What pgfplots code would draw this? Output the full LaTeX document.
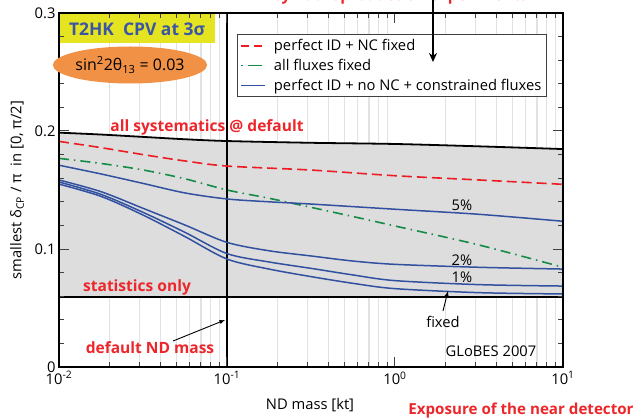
\documentclass[border=0pt]{standalone}
\usepackage{pgfplots}
\pgfplotsset{compat=1.18}
\usetikzlibrary{arrows.meta,shapes.geometric}
\usepackage{fontspec}
\setmainfont{Open Sans}
\definecolor{fillgray}{RGB}{221,221,221}
\definecolor{gridgray}{RGB}{226,226,226}
\definecolor{cred}{RGB}{237,28,36}
\definecolor{cgreen}{RGB}{20,140,70}
\definecolor{cblue}{RGB}{49,80,160}
\definecolor{annred}{RGB}{236,38,42}
\definecolor{titleblue}{RGB}{58,85,165}
\definecolor{cyellow}{RGB}{228,228,32}
\definecolor{corange}{RGB}{240,145,70}
\newcommand{\fs}{\fontsize{14.8}{16}\selectfont}
\newcommand{\fb}{\fontsize{15.6}{17}\selectfont\bfseries}
\begin{document}
\begin{tikzpicture}
\begin{axis}[
  at={(0,0)}, anchor=south west,
  scale only axis, width=504bp, height=354bp,
  xmode=log, xmin=0.01, xmax=10, ymin=0, ymax=0.3,
  axis on top,
  tick pos=both, tick align=inside,
  xtick={0.01,0.1,1,10},
  xticklabels={10\textsuperscript{-2},10\textsuperscript{-1},10\textsuperscript{0},10\textsuperscript{1}},
  minor xtick={0.02,0.03,0.04,0.05,0.06,0.07,0.08,0.09,0.2,0.3,0.4,0.5,0.6,0.7,0.8,0.9,2,3,4,5,6,7,8,9},
  ytick={0,0.1,0.2,0.3},
  yticklabels={0,0.1,0.2,0.3},
  minor ytick={0.02,0.04,0.06,0.08,0.12,0.14,0.16,0.18,0.22,0.24,0.26,0.28},
  major tick length=10bp, minor tick length=5bp,
  every tick/.style={black!75, line width=1bp},
  axis line style={line width=1.6bp},
  ticklabel style={font=\fs},
  xticklabel style={yshift=-1bp},
  legend style={at={(0.353,0.9407)}, anchor=north west, draw=black!75, line width=0.9bp,
    font=\fs, fill=white, inner xsep=3bp, inner ysep=3bp, row sep=3bp},
  legend cell align=left,
  legend image code/.code={\draw[#1] (0bp,0bp) -- (24bp,0bp); \path (30bp,0bp);},
]
% grid lines
\pgfplotsinvokeforeach{0.02,0.03,0.04,0.05,0.06,0.07,0.08,0.09,0.2,0.3,0.4,0.5,0.6,0.7,0.8,0.9,2,3,4,5,6,7,8,9}{
  \addplot[forget plot, gridgray, line width=1.2bp] coordinates {(#1,0) (#1,0.3)};
}
% gray band
\addplot[forget plot, fill=fillgray, draw=none] coordinates {
 (0.01,0.1986)(0.017783,0.1970)(0.031623,0.1950)(0.056234,0.1930)(0.1,0.1915)(0.31623,0.1900)(1,0.1890)(3.1623,0.1870)(10,0.1847)
 (10,0.059)(0.01,0.059)} -- cycle;
% top and bottom black curves
\addplot[forget plot, black, line width=1.8bp, smooth] coordinates {
 (0.01,0.1986)(0.017783,0.1970)(0.031623,0.1950)(0.056234,0.1930)(0.1,0.1915)(0.31623,0.1900)(1,0.1890)(3.1623,0.1870)(10,0.1847)};
\addplot[forget plot, black, line width=1.8bp] coordinates {(0.01,0.059)(10,0.059)};
% default ND mass line
\addplot[forget plot, black, line width=1.4bp] coordinates {(0.1,0)(0.1,0.3)};
% red dashed
\addplot[forget plot, color=cred, line width=1.6bp, smooth, dash pattern=on 10bp off 5bp] coordinates {
 (0.01,0.1912)(0.017783,0.1859)(0.031623,0.1800)(0.056234,0.1746)(0.1,0.1703)(0.31623,0.1669)(1,0.1621)(3.1623,0.1585)(10,0.1548)};
% green dash-dot
\addplot[forget plot, color=cgreen, line width=1.6bp, smooth, dash pattern=on 10bp off 5bp on 1.5bp off 5bp] coordinates {
 (0.01,0.1768)(0.017783,0.1725)(0.031623,0.1670)(0.056234,0.1595)(0.1,0.1500)(0.17783,0.1430)(0.31623,0.1353)(0.56234,0.1275)(1,0.1195)(3.1623,0.1034)(10,0.0845)};
% blue 5%
\addplot[forget plot, color=cblue, line width=1.5bp, smooth] coordinates {
 (0.01,0.1710)(0.017783,0.1636)(0.031623,0.1556)(0.056234,0.1475)(0.1,0.1424)(0.17783,0.1400)(0.31623,0.1381)(1,0.1337)(3.1623,0.1294)(10,0.1235)};
% blue 2%
\addplot[forget plot, color=cblue, line width=1.5bp, smooth] coordinates {
 (0.01,0.1585)(0.017783,0.1486)(0.031623,0.1345)(0.056234,0.1203)(0.1,0.1056)(0.17783,0.0985)(0.31623,0.0941)(0.56234,0.0898)(1,0.0870)(3.1623,0.0845)(10,0.0830)};
% blue 1%
\addplot[forget plot, color=cblue, line width=1.5bp, smooth] coordinates {
 (0.01,0.1568)(0.017783,0.1463)(0.031623,0.1311)(0.056234,0.1141)(0.1,0.0961)(0.17783,0.0890)(0.31623,0.0836)(0.56234,0.0780)(1,0.0732)(3.1623,0.0698)(10,0.0686)};
% blue fixed
\addplot[forget plot, color=cblue, line width=1.5bp, smooth] coordinates {
 (0.01,0.1550)(0.017783,0.1446)(0.031623,0.1288)(0.056234,0.1105)(0.1,0.0915)(0.17783,0.0830)(0.31623,0.0766)(0.56234,0.0709)(1,0.0664)(3.1623,0.0630)(10,0.0619)};
% legend
\addlegendimage{color=cred, line width=1.6bp, dash pattern=on 8bp off 5bp}
\addlegendentry{perfect ID + NC fixed}
\addlegendimage{color=cgreen, line width=1.6bp, dash pattern=on 1.5bp off 5bp on 14bp off 5bp}
\addlegendentry{all fluxes fixed}
\addlegendimage{color=cblue, line width=1.6bp}
\addlegendentry{perfect ID + no NC + constrained fluxes}
% title box
\fill[cyellow] (rel axis cs:-0.002,0.9153) rectangle (rel axis cs:0.3095,1);
\node[font=\fontsize{17.5}{19}\selectfont\bfseries, text=titleblue] at (rel axis cs:0.1548,0.9548) {T2HK\ \ CPV at 3σ};
% annotations
\node[font=\fb, text=annred] at (rel axis cs:0.2937,0.678) {all systematics @ default};
\node[font=\fb, text=annred] at (rel axis cs:0.1548,0.226) {statistics only};
\node[font=\fb, text=annred] at (rel axis cs:0.1806,0.0537) {default ND mass};
\draw[-latex, line width=0.9bp] (rel axis cs:0.2262,0.0734) -- (rel axis cs:0.3294,0.1328);
\node[font=\fs] at (rel axis cs:0.7619,0.1271) {fixed};
\draw[-latex, line width=0.9bp] (rel axis cs:0.7619,0.1582) -- (rel axis cs:0.7718,0.2147);
\node[font=\fs] at (rel axis cs:0.8571,0.0452) {GLoBES 2007};
\node[font=\fs] at (rel axis cs:0.7996,0.4576) {5\%};
\node[font=\fs] at (rel axis cs:0.7996,0.3023) {2\%};
\node[font=\fs] at (rel axis cs:0.7996,0.2542) {1\%};
\end{axis}
% ellipse (drawn in absolute units)
\node[ellipse, fill=corange, inner sep=0pt, minimum width=136bp, minimum height=37bp,
  font=\fontsize{16}{18}\selectfont] at (71bp,302bp) {sin\textsuperscript{2}2θ\textsubscript{13} = 0.03};
% outside annotations
\draw[-{Stealth[length=9bp,width=8bp]}, line width=1.6bp] (374bp,372bp) -- (374bp,305bp);
\node[font=\fb, text=annred, anchor=base] at (341bp,366bp) {by hadroproduction experiments};
\node[font=\fontsize{15.2}{17}\selectfont\bfseries, text=annred] at (462bp,-44bp) {Exposure of the near detector};
\node[font=\fs, rotate=90] at (-42bp,177bp) {smallest δ\textsubscript{CP} / π\ \ in [0, π/2]};
\node[font=\fs] at (251bp,-38bp) {ND mass [kt]};
\pgfresetboundingbox
\path[use as bounding box] (-59bp,-51bp) rectangle (580bp,367bp);
\end{tikzpicture}
\end{document}
